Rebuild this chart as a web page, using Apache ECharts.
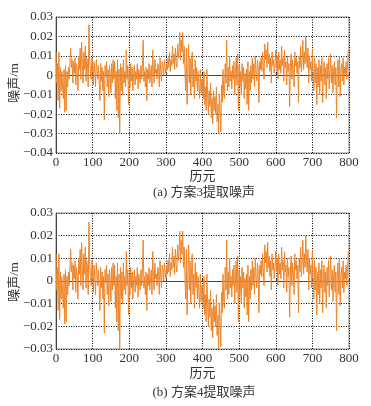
<!DOCTYPE html>
<html>
<head>
<meta charset="utf-8">
<script src="https://cdn.jsdelivr.net/npm/echarts@6/dist/echarts.min.js"></script>
<style>html,body{margin:0;padding:0;background:#fff}#c{width:371px;height:406px}</style>
</head>
<body>
<div id="c"></div>
<script>
// Extracted noise (m), sampled every 2 epochs
const noiseScheme3 = [
 0.012,-0.004,0.006,-0.013,0.012,-0.017,0.004,-0.008,0.002,-0.006,
 -0.012,0.003,-0.019,0.005,-0.018,0.002,-0.006,0.004,-0.002,0.006,
 0.014,0.004,0.008,-0.004,0.007,0.001,0.009,-0.005,0.006,0.002,
 -0.008,0.010,0.003,0.014,-0.002,0.017,0.005,-0.004,0.012,0.003,
 0.015,-0.003,0.009,0.006,-0.006,0.026,0.008,0.002,-0.002,0.009,
 0.004,-0.005,0.007,0.001,-0.006,0.008,0.003,-0.002,0.005,-0.004,
 -0.013,0.006,-0.003,0.004,-0.008,0.002,-0.023,0.005,-0.001,0.007,
 -0.006,0.003,-0.011,0.005,0.000,-0.009,0.006,-0.004,0.008,-0.002,
 0.007,-0.012,0.002,-0.018,0.008,-0.022,0.003,-0.030,0.006,-0.008,
 0.004,-0.010,0.008,-0.004,0.002,-0.006,0.013,-0.002,0.005,-0.015,
 0.003,-0.006,0.006,-0.003,0.004,-0.008,0.001,0.005,-0.005,0.002,
 -0.002,0.006,-0.007,0.003,0.000,-0.004,0.005,-0.002,0.004,0.018,
 -0.003,0.002,-0.006,0.004,-0.013,0.003,-0.002,0.006,-0.004,0.001,
 0.005,-0.006,0.013,0.002,-0.004,0.008,0.001,0.003,-0.002,0.006,
 0.004,-0.006,0.009,0.002,-0.003,0.007,0.005,0.000,0.008,0.004,
 0.001,0.006,0.003,0.009,0.004,0.012,0.002,0.008,0.005,0.015,
 0.006,0.011,0.003,0.014,0.007,0.004,0.016,0.009,0.013,0.022,
 0.008,0.018,0.012,0.022,0.006,0.015,0.003,-0.008,0.014,-0.015,
 0.004,0.016,-0.004,0.009,-0.010,0.005,0.012,-0.006,0.003,-0.012,
 0.008,-0.003,0.004,-0.008,0.002,-0.005,-0.012,0.003,-0.009,-0.002,
 -0.004,-0.012,0.002,-0.015,-0.006,-0.018,0.003,-0.010,-0.020,-0.008,
 -0.016,-0.004,-0.022,-0.012,-0.025,-0.008,-0.018,-0.011,-0.020,-0.006,
 -0.024,-0.015,-0.030,-0.010,-0.018,-0.029,-0.005,-0.014,0.003,-0.009,
 -0.012,0.006,-0.004,0.018,-0.008,0.004,-0.006,0.010,-0.003,0.002,
 -0.007,0.005,-0.002,0.007,-0.010,0.001,0.009,-0.005,0.011,-0.018,
 0.005,-0.006,0.002,-0.010,0.006,-0.003,0.004,-0.012,0.001,-0.007,
 0.003,-0.015,0.007,-0.018,0.002,-0.008,0.005,-0.004,0.009,-0.002,
 0.006,-0.006,0.010,0.002,-0.003,0.008,0.004,-0.014,0.007,0.003,
 0.009,0.002,0.012,0.005,-0.002,0.016,0.008,0.013,0.004,0.017,
 0.006,0.011,0.002,0.009,-0.004,0.012,0.005,0.008,0.001,0.006,
 0.013,0.004,0.010,-0.002,0.012,0.003,0.008,0.001,0.015,0.005,
 0.009,-0.003,0.013,0.004,0.007,-0.005,0.010,0.002,0.006,-0.016,
 0.004,0.011,-0.002,0.008,0.003,-0.006,0.012,0.005,0.009,0.001,
 0.007,-0.014,0.010,0.004,0.015,0.002,0.008,0.018,0.003,0.012,
 0.006,0.020,0.009,0.004,0.014,-0.004,0.010,0.003,0.007,-0.003,
 0.013,0.002,-0.008,0.009,-0.004,0.006,-0.015,0.004,-0.006,0.008,
 -0.010,0.005,-0.003,0.009,-0.014,0.002,0.007,-0.005,0.004,-0.012,
 0.006,-0.002,0.009,-0.007,0.003,0.011,-0.004,0.005,-0.009,0.002,
 0.007,-0.005,0.004,-0.022,0.002,0.008,-0.006,0.010,-0.011,0.003,
 0.006,-0.003,0.009,-0.005,0.004,0.001,0.007,-0.002,0.005,0.013
];
const noiseScheme4 = noiseScheme3;
const epochs = noiseScheme3.map((_, i) => i * 2);
const captions = ['(a) 方案3提取噪声', '(b) 方案4提取噪声'];
const yName = '噪声/m';
const xName = '历元';

const FONT = "'Liberation Serif','Noto Sans CJK SC',serif";
const fmtY = v => {
  if (Math.abs(v) < 1e-9) return '0';
  const s = Math.abs(v).toFixed(2);
  return (v < 0 ? '\u2212' : '') + s;
};
function mkX(gi) {
  return {
    type: 'value', gridIndex: gi, min: 0, max: 800, interval: 100,
    name: xName, nameLocation: 'middle', nameGap: gi === 0 ? 17 : 18,
    nameTextStyle: { fontFamily: FONT, fontSize: 13, color: '#333' },
    axisLine: { show: true, lineStyle: { color: '#444', width: 1 } },
    axisTick: { show: true, inside: true, length: 3, lineStyle: { color: '#333' } },
    axisLabel: { fontFamily: FONT, fontSize: 13, color: '#333', margin: 3 },
    splitLine: { show: true, lineStyle: { color: '#000', type: [1, 1.5], width: 1 } }
  };
}
function mkY(gi, min, max) {
  return {
    type: 'value', gridIndex: gi, min: min, max: max, interval: 0.01,
    axisLine: { show: true, onZero: false, lineStyle: { color: '#444', width: 1 } },
    axisTick: { show: false },
    axisLabel: { fontFamily: FONT, fontSize: 13, color: '#333', margin: 3, formatter: fmtY },
    splitLine: { show: true, lineStyle: { color: '#000', type: [1, 1.5], width: 1 } }
  };
}
function yTitle(cy) {
  return { type: 'text', x: 15, y: cy, rotation: Math.PI / 2,
    style: { text: yName, font: "13px " + FONT, fill: '#333', align: 'center', verticalAlign: 'middle' } };
}
const chart = echarts.init(document.getElementById('c'), null, { renderer: 'canvas' });
chart.setOption({
  backgroundColor: '#fff',
  animation: false,
  grid: [
    { left: 56, top: 17, width: 293, height: 136, show: true, borderColor: '#888', borderWidth: 1, backgroundColor: 'transparent', containLabel: false, outerBoundsMode: 'none' },
    { left: 56, top: 213, width: 293, height: 136, show: true, borderColor: '#888', borderWidth: 1, backgroundColor: 'transparent', containLabel: false, outerBoundsMode: 'none' }
  ],
  xAxis: [mkX(0), mkX(1)],
  yAxis: [mkY(0, -0.04, 0.03), mkY(1, -0.03, 0.03)],
  graphic: [
    yTitle(83),
    yTitle(282),
    { type: 'text', x: 204, y: 193, style: { text: captions[0], font: "13px " + FONT, fill: '#333', align: 'center', verticalAlign: 'middle' } },
    { type: 'text', x: 204, y: 393, style: { text: captions[1], font: "13px " + FONT, fill: '#333', align: 'center', verticalAlign: 'middle' } }
  ],
  series: [
    { type: 'line', xAxisIndex: 0, yAxisIndex: 0, showSymbol: false, sampling: null,
      data: epochs.map((e, i) => [e, noiseScheme3[i]]),
      lineStyle: { color: '#EE8428', width: 1 }, z: 3 },
    { type: 'line', xAxisIndex: 1, yAxisIndex: 1, showSymbol: false, sampling: null,
      data: epochs.map((e, i) => [e, noiseScheme4[i]]),
      lineStyle: { color: '#EE8428', width: 1 }, z: 3 }
  ]
});
</script>
</body>
</html>
